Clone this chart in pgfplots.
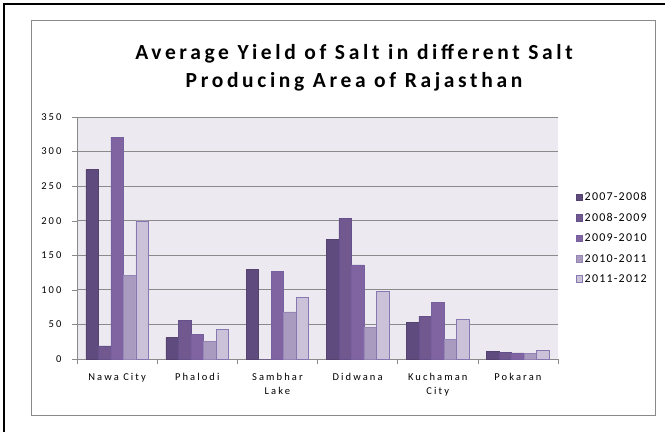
\documentclass[border=0pt]{standalone}
\usepackage{fontspec}
\setmainfont{Carlito}
\newfontfamily\lsfont[LetterSpace=20]{Carlito}
\newfontfamily\lgfont[LetterSpace=10]{Carlito}
\newfontfamily\ttlfont[LetterSpace=17]{Carlito}
\usepackage{pgfplots}
\pgfplotsset{compat=1.18}
\definecolor{bg}{HTML}{ECEAF0}
\definecolor{gridc}{HTML}{8A8A8A}
\definecolor{cA}{HTML}{5F4B7D}
\definecolor{cB}{HTML}{71588F}
\definecolor{cC}{HTML}{8064A2}
\definecolor{cD}{HTML}{A99BC0}
\definecolor{cE}{HTML}{CBC2DA}
\definecolor{eA}{HTML}{54426F}
\definecolor{eB}{HTML}{64508A}
\definecolor{eC}{HTML}{7660A0}
\definecolor{eD}{HTML}{9585B5}
\definecolor{eE}{HTML}{8678B0}
\begin{document}
\begin{tikzpicture}
\begin{axis}[
  scale only axis, width=481pt, height=242pt,
  ymin=0, ymax=350, ytick={0,50,...,350},
  xmin=-0.5, xmax=5.5,
  xtick={0,...,5},
  xticklabels={Nawa City,Phalodi,Sambhar\\Lake,Didwana,Kuchaman\\City,Pokaran},
  minor xtick={-0.5,0.5,...,5.5},
  major x tick style={draw=none},
  tick align=outside, tick pos=left,
  major tick length=5pt, minor tick length=5pt,
  axis x line*=bottom, axis y line*=left,
  axis line style={gridc,-},
  every tick/.style={gridc},
  ymajorgrids, grid style={gridc,line width=0.9pt},
  axis background/.style={fill=bg},
  ybar=0pt, bar width=0.156,
  tick label style={font=\fontsize{10.5}{14}\selectfont\lsfont},
  xticklabel style={align=center, yshift=-6pt},
  yticklabel style={xshift=-7pt},
  /pgf/number format/assume math mode=true,
  legend style={at={(1.03,0.705)}, anchor=north west, draw=none, fill=none,
    font=\fontsize{12}{13}\selectfont\lgfont, row sep=7pt,
    /tikz/every even column/.append style={column sep=2pt}},
  legend image code/.code={\draw[#1,line width=0.6pt] (0pt,-3pt) rectangle (6.5pt,3.5pt);},
]
\addplot[fill=cA,draw=eA] coordinates {(0,274) (1,31) (2,130) (3,173) (4,53) (5,11)};
\addplot[fill=cB,draw=eB] coordinates {(0,19) (1,56) (2,0) (3,203) (4,62) (5,10)};
\addplot[fill=cC,draw=eC] coordinates {(0,321) (1,36) (2,127) (3,136) (4,82) (5,9)};
\addplot[fill=cD,draw=eD] coordinates {(0,121) (1,26) (2,68) (3,46) (4,28) (5,8)};
\addplot[fill=cE,draw=eE] coordinates {(0,200) (1,43) (2,89) (3,98) (4,57) (5,13)};
\legend{2007-2008,2008-2009,2009-2010,2010-2011,2011-2012}
\coordinate (O) at (rel axis cs:0,0);
\end{axis}
\begin{scope}[shift={(O)},xshift=-77pt,yshift=-73pt,x=1pt,y=1pt]
\draw[black,line width=2pt] (4,0) -- (4,428) -- (665,428);
\draw[gridc,line width=0.8pt] (31,17) rectangle (655,412);
\node[font=\fontsize{21.5}{25}\selectfont\bfseries\ttlfont,align=center] at (354,364) {Average Yield of Salt in different Salt\\[3pt]Producing Area of Rajasthan};
\pgfresetboundingbox
\path[use as bounding box] (0,0) rectangle (665,432);
\end{scope}
\end{tikzpicture}
\end{document}
